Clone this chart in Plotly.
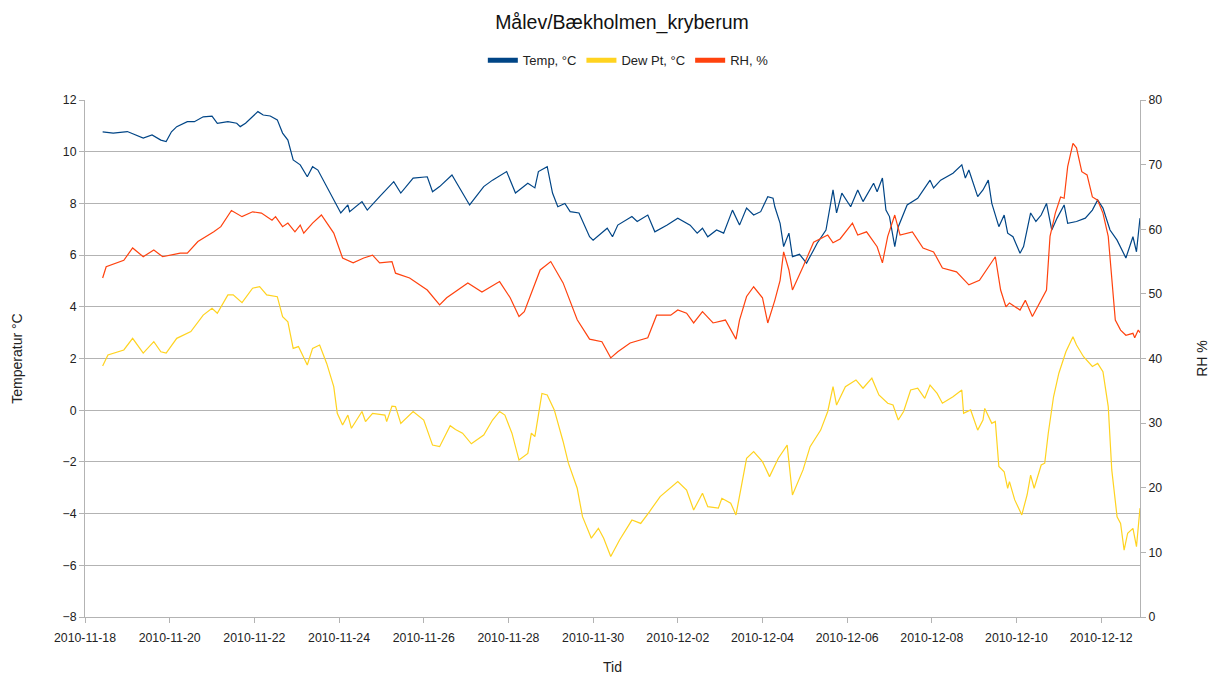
import pandas as pd
import plotly.graph_objects as go

# Logger start and elapsed hours of each reading
START = pd.Timestamp("2010-11-18 00:00")

temp_hours = [10, 16, 24, 33, 38, 43, 46, 49, 52, 58, 62, 67, 72, 75, 81, 86, 88, 91, 98, 101,
              105, 109, 112, 115, 118, 122, 126, 129, 132, 137, 141, 145, 149, 150, 157, 160, 167,
              175, 179, 186, 194, 197, 201, 208, 211, 218, 226, 231, 239, 244, 251, 255, 257, 262,
              265, 268, 272, 275, 280, 286, 288, 296, 299, 302, 310, 313, 319, 323, 330, 336, 343,
              347, 350, 353, 358, 362, 367, 371, 375, 379, 383, 387, 390, 391, 394, 396, 399, 401,
              405, 409, 413, 415, 420, 424, 426, 429, 434, 438, 441, 447, 449, 452, 454, 456, 459,
              461, 466, 472, 479, 481, 485, 492, 497, 499, 501, 506, 509, 512, 514, 518, 521, 523,
              526, 530, 532, 536, 539, 542, 545, 548, 551, 555, 557, 562, 567, 571, 574, 577, 581,
              585, 590, 592, 594, 596, 598]
temp_c = [10.77, 10.72, 10.78, 10.53, 10.65, 10.45, 10.39, 10.77, 10.97, 11.16, 11.16, 11.35,
          11.38, 11.10, 11.16, 11.10, 10.97, 11.10, 11.55, 11.42, 11.38, 11.23, 10.72, 10.45, 9.68,
          9.49, 9.03, 9.42, 9.29, 8.65, 8.13, 7.63, 7.94, 7.68, 8.07, 7.74, 8.26, 8.84, 8.40, 8.98,
          9.03, 8.45, 8.65, 9.10, 8.75, 7.94, 8.65, 8.90, 9.23, 8.40, 8.78, 8.60, 9.23, 9.42, 8.40,
          7.87, 8.00, 7.68, 7.63, 6.71, 6.58, 7.04, 6.71, 7.16, 7.49, 7.30, 7.55, 6.90, 7.16, 7.43,
          7.16, 6.85, 7.04, 6.71, 6.97, 6.85, 7.74, 7.16, 7.82, 7.55, 7.68, 8.26, 8.20, 7.87, 7.23,
          6.33, 6.85, 5.94, 6.03, 5.69, 6.20, 6.46, 6.97, 8.52, 7.63, 8.40, 7.87, 8.52, 8.07, 8.78,
          8.45, 8.98, 7.74, 7.49, 6.33, 7.10, 7.94, 8.20, 8.90, 8.60, 8.90, 9.17, 9.49, 8.98, 9.29,
          8.26, 8.52, 8.90, 8.00, 7.10, 7.55, 6.85, 6.71, 6.07, 6.33, 7.63, 7.30, 7.55, 8.00, 6.97,
          7.43, 7.94, 7.23, 7.30, 7.43, 7.74, 8.13, 7.82, 6.97, 6.58, 5.89, 6.33, 6.71, 6.13, 7.43]

dew_hours = [10, 13, 22, 27, 33, 39, 43, 46, 52, 60, 67, 72, 75, 81, 84, 89, 95, 99, 103, 109,
             112, 115, 118, 121, 126, 129, 133, 137, 141, 143, 146, 149, 151, 157, 159, 163, 170,
             171, 174, 176, 179, 186, 192, 197, 201, 207, 210, 214, 219, 226, 231, 235, 238, 242,
             246, 251, 253, 255, 259, 262, 266, 271, 274, 279, 282, 287, 291, 294, 298, 303, 310,
             315, 320, 326, 336, 341, 345, 350, 353, 359, 361, 366, 369, 375, 379, 384, 388, 393,
             398, 401, 407, 411, 417, 421, 424, 426, 431, 437, 441, 446, 450, 455, 458, 461, 464,
             468, 472, 476, 479, 483, 486, 492, 497, 498, 502, 506, 509, 510, 514, 516, 518, 521,
             523, 524, 527, 531, 534, 536, 538, 542, 544, 546, 549, 552, 556, 560, 562, 566, 571,
             574, 577, 580, 582, 585, 587, 589, 591, 594, 596, 597, 598]
dew_c = [1.71, 2.14, 2.33, 2.78, 2.21, 2.65, 2.26, 2.21, 2.78, 3.04, 3.68, 3.94, 3.75, 4.46, 4.46,
         4.16, 4.72, 4.78, 4.46, 4.39, 3.62, 3.42, 2.39, 2.46, 1.75, 2.39, 2.52, 1.81, 0.91, -0.12,
         -0.57, -0.19, -0.70, -0.05, -0.44, -0.12, -0.19, -0.44, 0.16, 0.14, -0.51, -0.05, -0.38,
         -1.35, -1.41, -0.60, -0.75, -0.89, -1.30, -0.96, -0.38, -0.05, -0.19, -0.89, -1.93, -1.67,
         -0.89, -1.02, 0.65, 0.59, 0.01, -1.21, -2.05, -3.02, -4.12, -4.95, -4.57, -4.95, -5.66,
         -5.02, -4.25, -4.38, -3.92, -3.34, -2.76, -3.09, -3.86, -3.21, -3.73, -3.79, -3.41, -3.60,
         -4.05, -1.86, -1.60, -1.99, -2.57, -1.86, -1.35, -3.28, -2.31, -1.41, -0.77, -0.05, 0.91,
         0.20, 0.91, 1.17, 0.85, 1.24, 0.59, 0.27, 0.20, -0.38, -0.05, 0.78, 0.85, 0.46, 0.97, 0.65,
         0.27, 0.52, 0.78, -0.12, 0.01, -0.77, -0.38, 0.07, -0.51, -0.44, -2.18, -2.38, -3.02,
         -2.76, -3.47, -4.05, -3.28, -2.51, -3.02, -2.12, -2.05, -0.89, 0.52, 1.43, 2.26, 2.84,
         2.52, 2.07, 1.69, 1.81, 1.49, 0.14, -2.31, -4.12, -4.38, -5.41, -4.76, -4.57, -5.28,
         -4.38, -3.79]

rh_hours = [10, 12, 22, 27, 33, 39, 44, 54, 58, 64, 73, 77, 83, 89, 95, 100, 106, 108, 112, 115,
            119, 122, 124, 129, 134, 141, 146, 152, 158, 163, 167, 174, 176, 184, 194, 201, 205,
            217, 225, 235, 241, 246, 249, 258, 264, 271, 279, 286, 293, 298, 302, 309, 319, 324,
            332, 336, 341, 345, 350, 356, 363, 369, 371, 375, 379, 384, 387, 391, 394, 396, 399,
            401, 407, 413, 421, 424, 428, 435, 438, 443, 449, 452, 455, 459, 462, 469, 475, 481,
            486, 494, 501, 507, 516, 519, 522, 524, 530, 533, 537, 542, 545, 547, 550, 553, 555,
            557, 560, 562, 565, 568, 571, 574, 577, 580, 582, 584, 587, 590, 594, 595, 597, 598]
rh_pct = [52.45, 54.2, 55.2, 57.1, 55.75, 56.8, 55.75, 56.3, 56.3, 58.1, 59.6, 60.4, 62.9, 61.95,
          62.7, 62.5, 61.4, 61.95, 60.4, 60.95, 59.6, 60.65, 59.4, 60.95, 62.2, 59.4, 55.55, 54.8,
          55.55, 56.0, 54.8, 55.0, 53.2, 52.45, 50.6, 48.3, 49.4, 51.7, 50.3, 51.9, 49.4, 46.5,
          47.25, 53.7, 55.0, 51.7, 46.0, 43.0, 42.6, 40.1, 41.05, 42.4, 43.2, 46.7, 46.7, 47.5,
          47.0, 45.5, 47.25, 45.5, 45.95, 43.0, 45.95, 49.6, 51.1, 49.4, 45.5, 49.0, 52.1, 56.5,
          53.7, 50.6, 54.2, 58.0, 59.1, 57.9, 58.5, 60.95, 59.1, 59.6, 57.3, 54.8, 58.9, 62.2,
          59.1, 59.6, 57.1, 56.5, 54.0, 53.4, 51.4, 52.1, 55.75, 50.6, 48.0, 48.6, 47.5, 49.0,
          46.5, 49.0, 50.6, 58.9, 62.5, 65.0, 64.8, 69.7, 73.3, 72.6, 68.9, 68.4, 65.0, 64.5,
          62.5, 58.9, 52.1, 45.95, 44.4, 43.6, 43.9, 43.2, 44.4, 44.0]

SERIES_NAMES = ["Temp, °C", "Dew Pt, °C", "RH, %"]
COLORS = ["#004586", "#ffd320", "#ff420e"]
X_TICK_DAYS = 2


def stamps(hours):
    return START + pd.to_timedelta(hours, unit="h")


fig = go.Figure()

fig.add_trace(go.Scatter(x=stamps(temp_hours), y=temp_c, mode="lines", name=SERIES_NAMES[0],
                         line=dict(color=COLORS[0], width=1.2), showlegend=False))
fig.add_trace(go.Scatter(x=stamps(dew_hours), y=dew_c, mode="lines", name=SERIES_NAMES[1],
                         line=dict(color=COLORS[1], width=1.2), showlegend=False))
fig.add_trace(go.Scatter(x=stamps(rh_hours), y=rh_pct, mode="lines", name=SERIES_NAMES[2],
                         line=dict(color=COLORS[2], width=1.2), showlegend=False, yaxis="y2"))

# Legend entries with thick swatches
for name, color in zip(SERIES_NAMES, COLORS):
    fig.add_trace(go.Scatter(x=[None], y=[None], mode="lines", name=name,
                             line=dict(color=color, width=5), showlegend=True))

axis_col = "#b3b3b3"
FONT = "Liberation Sans, Arial, sans-serif"
tick_font = dict(family=FONT, size=12.3, color="#222222")
title_font = dict(family=FONT, size=14, color="#222222")

fig.update_layout(
    width=1210, height=675,
    paper_bgcolor="white", plot_bgcolor="white",
    margin=dict(l=85, r=70, t=100, b=58, autoexpand=False),
    font=dict(family=FONT, size=12, color="#222222"),
    title=dict(text="Målev/Bækholmen_kryberum", x=0.514, xref="container", xanchor="center",
               y=0.967, yref="container", yanchor="middle",
               font=dict(size=19.5, color="#111111")),
    legend=dict(orientation="h", x=0.515, xanchor="center", y=1.077, yanchor="middle",
                font=dict(size=13), itemwidth=30, tracegroupgap=0,
                bgcolor="rgba(0,0,0,0)"),
    xaxis=dict(
        type="date",
        range=[START, START + pd.Timedelta(hours=598)],
        tick0=START, dtick=X_TICK_DAYS * 86400000, tickformat="%Y-%m-%d",
        showgrid=False, zeroline=False,
        showline=True, linecolor=axis_col, linewidth=1,
        ticks="outside", tickcolor=axis_col, ticklen=5,
        tickfont=tick_font, ticklabelstandoff=4,
        title=dict(text="Tid", font=title_font, standoff=18),
        automargin=False,
    ),
    yaxis=dict(
        range=[-8, 12], dtick=2, tick0=-8,
        showgrid=True, gridcolor=axis_col, gridwidth=1, zeroline=False,
        showline=True, linecolor=axis_col, linewidth=1,
        ticks="outside", tickcolor=axis_col, ticklen=5,
        tickfont=tick_font,
        title=dict(text="Temperatur °C", font=title_font, standoff=36),
        automargin=False,
    ),
    yaxis2=dict(
        range=[0, 80], dtick=10, tick0=0,
        overlaying="y", side="right",
        showgrid=False, zeroline=False,
        showline=True, linecolor=axis_col, linewidth=1,
        ticks="outside", tickcolor=axis_col, ticklen=5,
        tickfont=tick_font,
        title=dict(text="RH %", font=title_font, standoff=36),
        automargin=False,
    ),
)

fig.write_html("out.html")
